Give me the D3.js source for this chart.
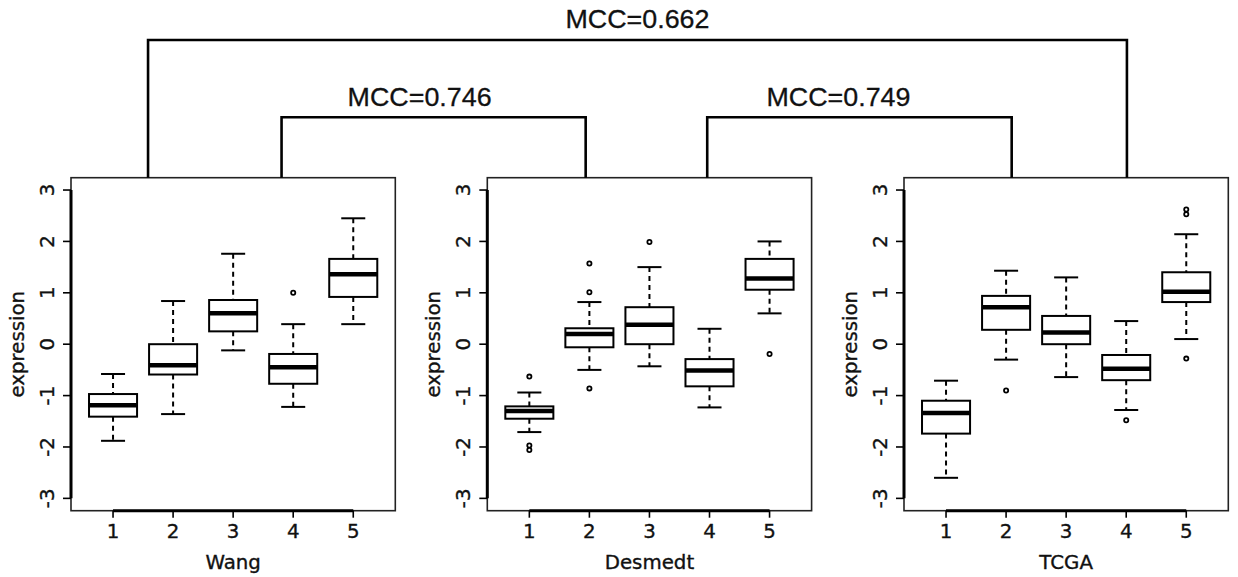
<!DOCTYPE html>
<html>
<head>
<meta charset="utf-8">
<script src="https://cdn.jsdelivr.net/npm/d3@7/dist/d3.min.js"></script>
<style>
  html, body { margin: 0; padding: 0; background: #fff; }
  svg { display: block; }
</style>
</head>
<body>
<svg id="chart" width="1238" height="577"></svg>
<script>
// ---------------- data ----------------
const groups = [1, 2, 3, 4, 5];
const yTicks = [-3, -2, -1, 0, 1, 2, 3];
const datasetNames = ["Wang", "Desmedt", "TCGA"];

// Wang
const wangLow  = [-1.88, -1.36, -0.12, -1.22, 0.39];
const wangQ1   = [-1.41, -0.59,  0.25, -0.77, 0.92];
const wangMed  = [-1.19, -0.41,  0.60, -0.45, 1.36];
const wangQ3   = [-0.97,  0.00,  0.86, -0.19, 1.66];
const wangHigh = [-0.58,  0.84,  1.76,  0.39, 2.45];
const wangOut  = [[], [], [], [1.00], []];

// Desmedt
const desmedtLow  = [-1.71, -0.50, -0.43, -1.23, 0.60];
const desmedtQ1   = [-1.45, -0.06,  0.00, -0.82, 1.06];
const desmedtMed  = [-1.30,  0.20,  0.38, -0.51, 1.28];
const desmedtQ3   = [-1.21,  0.31,  0.72, -0.29, 1.66];
const desmedtHigh = [-0.94,  0.82,  1.50,  0.30, 2.00];
const desmedtOut  = [[-0.63, -1.97, -2.06], [1.57, 1.01, -0.86], [1.99], [], [-0.19]];

// TCGA
const tcgaLow  = [-2.60, -0.30, -0.64, -1.28, 0.10];
const tcgaQ1   = [-1.74,  0.28,  0.00, -0.70, 0.82];
const tcgaMed  = [-1.34,  0.72,  0.23, -0.48, 1.02];
const tcgaQ3   = [-1.10,  0.94,  0.55, -0.21, 1.40];
const tcgaHigh = [-0.71,  1.43,  1.30,  0.45, 2.14];
const tcgaOut  = [[], [-0.90], [], [-1.48], [2.62, 2.53, -0.28]];

// dendrogram labels
const mccLabels = ["MCC=0.662", "MCC=0.746", "MCC=0.749"];

// ---------------- build tables ----------------
function buildTable(low, q1, med, q3, high, out) {
  return groups.map((g, i) => ({ g, low: low[i], q1: q1[i], med: med[i], q3: q3[i], high: high[i], out: out[i] }));
}
const tables = [
  buildTable(wangLow, wangQ1, wangMed, wangQ3, wangHigh, wangOut),
  buildTable(desmedtLow, desmedtQ1, desmedtMed, desmedtQ3, desmedtHigh, desmedtOut),
  buildTable(tcgaLow, tcgaQ1, tcgaMed, tcgaQ3, tcgaHigh, tcgaOut)
];

// ---------------- layout ----------------
const svg = d3.select("#chart");
const panelLefts = [71, 487.3, 904];
const panelW = 324.3;
const panelTop = 177.7, panelBottom = 510.7;
const font = "'DejaVu Sans', sans-serif";
const fs = 19.8;

const y = d3.scaleLinear().domain([-3.24, 3.24]).range([panelBottom, panelTop]);
const xScales = panelLefts.map(l => d3.scaleLinear().domain([0.3, 5.7]).range([l, l + panelW]));

function styleText(sel) {
  return sel.attr("font-family", font).attr("font-size", fs)
    .attr("fill", "#111").attr("stroke", "#111").attr("stroke-width", 0.35);
}

tables.forEach((tbl, p) => {
  const x = xScales[p];
  const L = panelLefts[p];
  const g = svg.append("g");

  // panel frame (thin)
  g.append("rect")
    .attr("x", L).attr("y", panelTop)
    .attr("width", panelW).attr("height", panelBottom - panelTop)
    .attr("fill", "none").attr("stroke", "#222").attr("stroke-width", 1.6);

  // y axis line (spanning ticks) + ticks + labels
  g.append("line")
    .attr("x1", L).attr("x2", L)
    .attr("y1", y(d3.min(yTicks))).attr("y2", y(d3.max(yTicks)))
    .attr("stroke", "#000").attr("stroke-width", 3);
  g.selectAll(".ytick").data(yTicks).enter().append("line")
    .attr("x1", L - 8).attr("x2", L)
    .attr("y1", d => y(d)).attr("y2", d => y(d))
    .attr("stroke", "#000").attr("stroke-width", 1.6);
  styleText(g.selectAll(".ylab").data(yTicks).enter().append("text")
    .attr("transform", d => `translate(${L - 17.5},${y(d)}) rotate(-90)`)
    .attr("text-anchor", "middle"))
    .text(d => d);
  styleText(g.append("text")
    .attr("transform", `translate(${L - 47},${y(0)}) rotate(-90)`)
    .attr("text-anchor", "middle"))
    .text("expression");

  // x axis line + ticks + labels
  g.append("line")
    .attr("x1", x(d3.min(groups))).attr("x2", x(d3.max(groups)))
    .attr("y1", panelBottom).attr("y2", panelBottom)
    .attr("stroke", "#000").attr("stroke-width", 3);
  g.selectAll(".xtick").data(groups).enter().append("line")
    .attr("x1", d => x(d)).attr("x2", d => x(d))
    .attr("y1", panelBottom).attr("y2", panelBottom + 7)
    .attr("stroke", "#000").attr("stroke-width", 1.6);
  styleText(g.selectAll(".xlab").data(groups).enter().append("text")
    .attr("x", d => x(d)).attr("y", 537.5)
    .attr("text-anchor", "middle"))
    .text(d => d);
  styleText(g.append("text")
    .attr("x", x(3)).attr("y", 569)
    .attr("text-anchor", "middle"))
    .text(datasetNames[p]);

  // boxes
  const boxHalf = 0.4, capHalf = 0.2;
  const b = g.selectAll(".box").data(tbl).enter().append("g");
  // whiskers (dashed)
  b.append("line")
    .attr("x1", d => x(d.g)).attr("x2", d => x(d.g))
    .attr("y1", d => y(d.high)).attr("y2", d => y(d.q3))
    .attr("stroke", "#000").attr("stroke-width", 2).attr("stroke-dasharray", "5,4");
  b.append("line")
    .attr("x1", d => x(d.g)).attr("x2", d => x(d.g))
    .attr("y1", d => y(d.q1)).attr("y2", d => y(d.low))
    .attr("stroke", "#000").attr("stroke-width", 2).attr("stroke-dasharray", "5,4");
  // staples
  b.append("line")
    .attr("x1", d => x(d.g - capHalf)).attr("x2", d => x(d.g + capHalf))
    .attr("y1", d => y(d.high)).attr("y2", d => y(d.high))
    .attr("stroke", "#000").attr("stroke-width", 2);
  b.append("line")
    .attr("x1", d => x(d.g - capHalf)).attr("x2", d => x(d.g + capHalf))
    .attr("y1", d => y(d.low)).attr("y2", d => y(d.low))
    .attr("stroke", "#000").attr("stroke-width", 2);
  // box
  b.append("rect")
    .attr("x", d => x(d.g - boxHalf))
    .attr("width", d => x(d.g + boxHalf) - x(d.g - boxHalf))
    .attr("y", d => y(d.q3))
    .attr("height", d => y(d.q1) - y(d.q3))
    .attr("fill", "#fff").attr("stroke", "#000").attr("stroke-width", 2);
  // median
  b.append("line")
    .attr("x1", d => x(d.g - boxHalf)).attr("x2", d => x(d.g + boxHalf))
    .attr("y1", d => y(d.med)).attr("y2", d => y(d.med))
    .attr("stroke", "#000").attr("stroke-width", 4.5);
  // outliers
  b.selectAll("circle").data(d => d.out.map(v => ({ g: d.g, v }))).enter().append("circle")
    .attr("cx", d => x(d.g)).attr("cy", d => y(d.v))
    .attr("r", 2.1)
    .attr("fill", "#fff").attr("stroke", "#000").attr("stroke-width", 1.8);
});

// ---------------- dendrogram ----------------
// bracket anchor positions expressed in each panel's x-units
const dendroTopY = 40, dendroMidY = 117.3;
const bracketOuterX = [xScales[0](1.583), xScales[2](4.012)];       // Wang .. TCGA
const bracketInnerLeftX = [xScales[0](3.806), xScales[1](1.938)];   // Wang .. Desmedt
const bracketInnerRightX = [xScales[1](3.962), xScales[2](2.093)];  // Desmedt .. TCGA

const dg = svg.append("g").attr("fill", "none").attr("stroke", "#000").attr("stroke-width", 2.6);
function bracket(xs, yTop) {
  dg.append("path")
    .attr("d", d3.line()([[xs[0], panelTop], [xs[0], yTop], [xs[1], yTop], [xs[1], panelTop]]))
    .attr("stroke-linejoin", "miter");
}
bracket(bracketOuterX, dendroTopY);
bracket(bracketInnerLeftX, dendroMidY);
bracket(bracketInnerRightX, dendroMidY);

const mccFont = "'Liberation Sans', Arial, sans-serif";
const mccPos = [
  [d3.mean(bracketOuterX), 27.5],
  [d3.mean(bracketInnerLeftX) - 14, 105.7],
  [d3.mean(bracketInnerRightX) - 21, 105.7]
];
svg.selectAll(".mcc").data(mccLabels).enter().append("text")
  .attr("x", (d, i) => mccPos[i][0]).attr("y", (d, i) => mccPos[i][1])
  .attr("text-anchor", "middle")
  .attr("font-family", mccFont).attr("font-size", 26)
  .attr("textLength", 144).attr("lengthAdjust", "spacingAndGlyphs")
  .attr("fill", "#111").attr("stroke", "#111").attr("stroke-width", 0.3)
  .text(d => d);
</script>
</body>
</html>
